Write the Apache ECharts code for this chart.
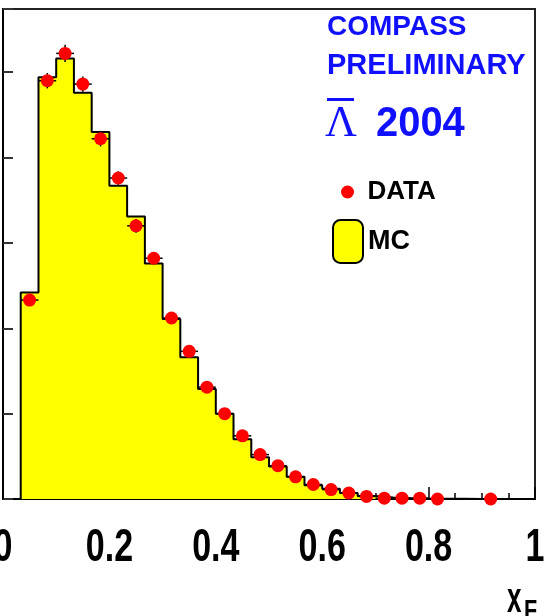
<!DOCTYPE html>
<html>
<head>
  <meta charset="UTF-8">
  <title>Lambda-bar xF</title>
  <script src="https://cdn.jsdelivr.net/npm/echarts@6/dist/echarts.min.js"></script>
  <style>
    html, body { margin: 0; padding: 0; background: #fff; }
    #main { width: 545px; height: 616px; }
  </style>
</head>
<body>
<div id="main"></div>
<script type="text/javascript">
  // MC histogram: lower bin edges, last upper edge, contents (arbitrary units)
  var mcLow = [0.0333, 0.0667, 0.1, 0.1333, 0.1667, 0.2, 0.2333, 0.2667, 0.3, 0.3333,
    0.3667, 0.4, 0.4333, 0.4667, 0.5, 0.5333, 0.5667, 0.6, 0.6333, 0.6667,
    0.7, 0.7333, 0.7667, 0.8, 0.8333, 0.8667];
  var mcEnd = 0.9;
  var mcVal = [2.42, 4.94, 5.16, 4.76, 4.30, 3.67, 3.31, 2.76, 2.11, 1.66,
    1.29, 1.00, 0.70, 0.49, 0.38, 0.26, 0.16, 0.12, 0.07, 0.035,
    0.018, 0.008, 0.005, 0.003, 0.002, 0.001];

  // data points: bin centres, values, errors
  var dataX = [0.05, 0.0833, 0.1167, 0.15, 0.1833, 0.2167, 0.25, 0.2833, 0.3167, 0.35,
    0.3833, 0.4167, 0.45, 0.4833, 0.5167, 0.55, 0.5833, 0.6167, 0.65, 0.6833,
    0.7167, 0.75, 0.7833, 0.8167, 0.9167];
  var dataY = [2.33, 4.90, 5.22, 4.86, 4.22, 3.76, 3.20, 2.82, 2.12, 1.73,
    1.31, 1.00, 0.74, 0.52, 0.39, 0.26, 0.17, 0.11, 0.07, 0.03,
    0.01, 0.01, 0.01, 0.0, 0.0];
  var dataErr = [0.07, 0.09, 0.10, 0.09, 0.09, 0.08, 0.08, 0.07, 0.06, 0.06,
    0.05, 0.05, 0.04, 0.03, 0.03, 0.03, 0.02, 0.02, 0.02, 0.01,
    0.01, 0.01, 0.01, 0.01, 0.01];

  // x tick labels
  var xTicks = [0, 0.2, 0.4, 0.6, 0.8, 1];
  var binHalf = 0.01667;

  var mcLine = [[mcLow[0], 0]];
  for (var i = 0; i < mcLow.length; i++) {
    mcLine.push([mcLow[i], mcVal[i]]);
  }
  mcLine.push([mcEnd, mcVal[mcVal.length - 1]]);
  mcLine.push([mcEnd, 0]);

  var errData = dataX.map(function (x, i) {
    return [x, dataY[i], dataErr[i]];
  });

  var blue = '#1010ff';
  var sans = '"Liberation Sans", Arial, sans-serif';

  var myChart = echarts.init(document.getElementById('main'));

  var option = {
    animation: false,
    grid: {
      left: 3, right: 10, top: 9, bottom: 117,
      containLabel: false, outerBoundsMode: 'none',
      show: true, borderColor: '#222', borderWidth: 2, backgroundColor: '#fff'
    },
    legend: [
      {
        data: [{name: 'DATA', icon: 'circle'}],
        left: 341, top: 179, padding: 0,
        itemWidth: 30, itemHeight: 13,
        selectedMode: false,
        textStyle: {fontSize: 26, fontWeight: 'bold', color: '#000', fontFamily: sans}
      },
      {
        data: [{name: 'MC', icon: 'roundRect'}],
        left: 332, top: 219, padding: 0,
        itemWidth: 30, itemHeight: 43,
        selectedMode: false,
        itemStyle: {color: '#ffff00', borderColor: '#000', borderWidth: 2},
        textStyle: {fontSize: 27, fontWeight: 'bold', color: '#000', fontFamily: sans}
      }
    ],
    xAxis: {
      type: 'value',
      min: 0, max: 1, interval: 0.2,
      axisLine: {show: true, lineStyle: {color: '#000', width: 2}},
      axisTick: {show: true, inside: true, length: 12, lineStyle: {color: '#000', width: 1.5}},
      minorTick: {show: true, splitNumber: 4, length: 6, lineStyle: {color: '#000', width: 1.5}},
      splitLine: {show: false},
      axisLabel: {show: false}
    },
    yAxis: {
      type: 'value',
      min: 0, max: 5.74, interval: 1,
      axisLine: {show: true, lineStyle: {color: '#000', width: 2}},
      axisTick: {show: true, inside: true, length: 10, lineStyle: {color: '#333', width: 2}},
      splitLine: {show: false},
      axisLabel: {show: false}
    },
    series: [
      {
        name: 'MC',
        type: 'line',
        step: 'end',
        data: mcLine,
        symbol: 'none',
        z: 1,
        itemStyle: {color: '#ffff00'},
        lineStyle: {color: '#000', width: 2},
        areaStyle: {color: '#ffff00', opacity: 1}
      },
      {
        name: 'err',
        type: 'custom',
        z: 2,
        data: errData,
        renderItem: function (params, api) {
          var x = api.value(0), y = api.value(1), e = api.value(2);
          var a = api.coord([x - binHalf, y]);
          var b = api.coord([x + binHalf, y]);
          var c = api.coord([x, y - e]);
          var d = api.coord([x, y + e]);
          var st = {stroke: '#000', lineWidth: 1.5};
          return {
            type: 'group',
            children: [
              {type: 'line', shape: {x1: a[0], y1: a[1], x2: b[0], y2: b[1]}, style: st},
              {type: 'line', shape: {x1: c[0], y1: c[1], x2: d[0], y2: d[1]}, style: st}
            ]
          };
        }
      },
      {
        name: 'DATA',
        type: 'scatter',
        z: 3,
        clip: false,
        symbol: 'circle',
        symbolSize: 13,
        itemStyle: {color: '#ff0000', opacity: 1},
        data: dataX.map(function (x, i) {
          return [x, dataY[i]];
        })
      }
    ]
  };

  myChart.setOption(option);

  // tick labels placed from the axis scale, squeezed like the original bold narrow font
  var graphics = xTicks.map(function (v) {
    var px = myChart.convertToPixel({xAxisIndex: 0}, v);
    return {
      type: 'text', x: px, y: 548, scaleX: 0.74,
      style: {text: String(v), fill: '#000', font: 'bold 46px ' + sans, align: 'center', verticalAlign: 'middle'}
    };
  });
  graphics = graphics.concat([
    {type: 'text', x: 327, y: 27, style: {text: 'COMPASS', fill: blue, font: 'bold 28px ' + sans, align: 'left', verticalAlign: 'middle'}},
    {type: 'text', x: 327, y: 66, style: {text: 'PRELIMINARY', fill: blue, font: 'bold 29px ' + sans, align: 'left', verticalAlign: 'middle'}},
    {type: 'text', x: 325, y: 124, style: {text: 'Λ', fill: blue, font: '44px "Liberation Serif", serif', align: 'left', verticalAlign: 'middle'}},
    {type: 'line', shape: {x1: 327, y1: 99.5, x2: 354, y2: 99.5}, style: {stroke: blue, lineWidth: 3}},
    {type: 'text', x: 376, y: 124, scaleX: 0.95, style: {text: '2004', fill: blue, font: 'bold 42px ' + sans, align: 'left', verticalAlign: 'middle'}},
    {type: 'text', x: 507, y: 600, scaleX: 0.62, style: {text: 'x', fill: '#000', font: 'bold 42px ' + sans, align: 'left', verticalAlign: 'middle'}},
    {type: 'text', x: 524, y: 612, scaleX: 0.72, style: {text: 'F', fill: '#000', font: 'bold 30px ' + sans, align: 'left', verticalAlign: 'middle'}}
  ]);
  myChart.setOption({graphic: graphics});
</script>
</body>
</html>
